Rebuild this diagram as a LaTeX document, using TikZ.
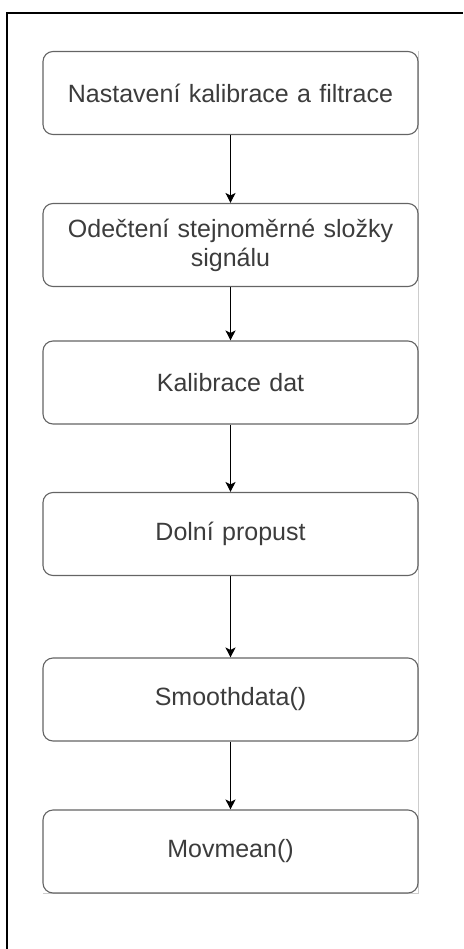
\documentclass[tikz,border=0pt]{standalone}
\usepackage{fontspec}
\setmainfont{Liberation Sans}
\usetikzlibrary{arrows.meta,positioning}
\definecolor{boxgrey}{RGB}{100,100,100}
\definecolor{textgrey}{RGB}{60,60,60}
\definecolor{edgegrey}{RGB}{205,205,205}

\begin{document}
\begin{tikzpicture}[x=1pt,y=-1pt,
    stepbox/.style={draw=boxgrey, line width=1.1pt, rounded corners=10pt,
        minimum width=375pt, minimum height=83pt, text width=365pt,
        inner sep=0pt, align=center, text=textgrey,
        font=\fontsize{25}{29}\selectfont},
    flow/.style={-{Stealth[length=10pt,width=10pt,inset=2.5pt]}, line width=1.1pt, black}]
    \useasboundingbox (0,0) rectangle (463,949);

    % outer frame and the pasted image edge
    \draw[line width=2pt] (7,949) -- (7,13) -- (463,13);
    \draw[edgegrey, line width=0.8pt] (43,893.5) -- (418.5,893.5) -- (418.5,51);

    % steps
    \node[stepbox] (nastaveni) at (230.5,93) {Nastavení kalibrace a filtrace};
    \node[stepbox] (odecteni) at (230.5,245) {Odečtení stejnoměrné složky\\signálu};
    \node[stepbox] (kalibrace) at (230.5,382.5) {Kalibrace dat};
    \node[stepbox] (propust) at (230.5,534) {Dolní propust};
    \node[stepbox] (smooth) at (230.5,699.5) {Smoothdata()};
    \node[stepbox] (movmean) at (230.5,851.5) {Movmean()};

    % connectors
    \draw[flow] (nastaveni) -- (odecteni);
    \draw[flow] (odecteni) -- (kalibrace);
    \draw[flow] (kalibrace) -- (propust);
    \draw[flow] (propust) -- (smooth);
    \draw[flow] (smooth) -- (movmean);
\end{tikzpicture}
\end{document}
